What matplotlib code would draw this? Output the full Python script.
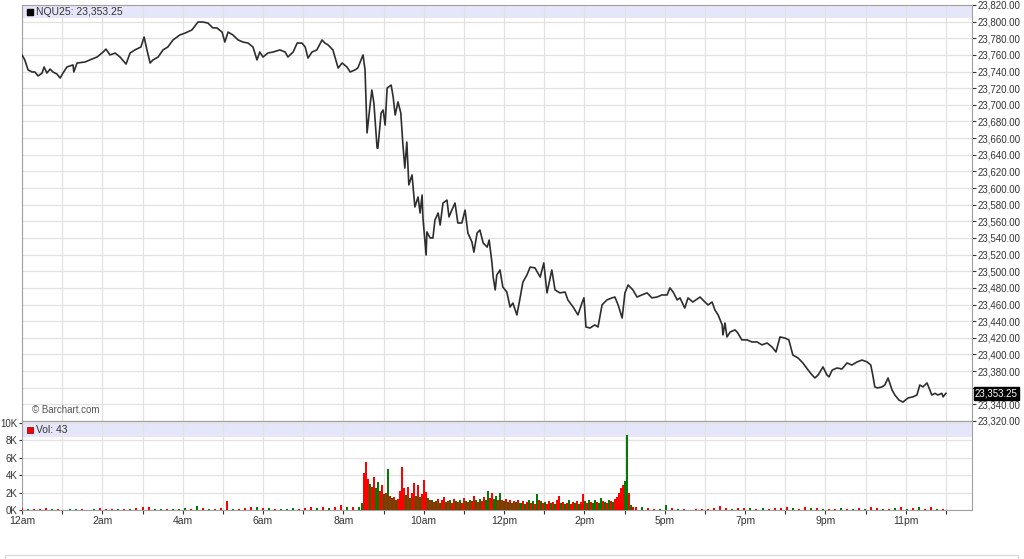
import numpy as np
import matplotlib
matplotlib.use('Agg')
import matplotlib.pyplot as plt
import matplotlib.transforms as mtransforms
from matplotlib.patches import Rectangle
from matplotlib.ticker import FuncFormatter

plt.rcParams['font.family'] = ['Liberation Sans', 'DejaVu Sans']

# ---- data (session hours from 12am, the 4pm-5pm break is skipped) ----
price_hours = [0.00, 0.07, 0.15, 0.25, 0.32, 0.40, 0.50, 0.55, 0.62, 0.70, 0.77, 0.87, 0.95, 1.02, 1.12, 1.27, 1.29, 1.37,
               1.57, 1.69, 1.87, 2.02, 2.09, 2.19, 2.32, 2.44, 2.59, 2.69, 2.81, 2.96, 3.04, 3.11, 3.19, 3.26, 3.39, 3.51,
               3.63, 3.76, 3.93, 4.06, 4.23, 4.38, 4.51, 4.63, 4.75, 4.85, 4.98, 5.05, 5.13, 5.25, 5.38, 5.50, 5.63, 5.75,
               5.85, 5.92, 6.00, 6.12, 6.25, 6.42, 6.55, 6.62, 6.75, 6.85, 6.97, 7.05, 7.12, 7.22, 7.34, 7.47, 7.54, 7.62,
               7.74, 7.87, 7.97, 8.09, 8.17, 8.29, 8.36, 8.49, 8.54, 8.59, 8.66, 8.71, 8.76, 8.84, 8.86, 8.94, 8.99, 9.04,
               9.09, 9.19, 9.24, 9.29, 9.36, 9.43, 9.48, 9.53, 9.58, 9.63, 9.71, 9.78, 9.86, 9.91, 9.96, 9.98, 10.06, 10.08,
               10.16, 10.23, 10.28, 10.36, 10.41, 10.48, 10.58, 10.63, 10.70, 10.78, 10.85, 10.95, 11.03, 11.10, 11.20,
               11.25, 11.33, 11.40, 11.48, 11.58, 11.63, 11.70, 11.73, 11.78, 11.82, 11.90, 11.97, 12.07, 12.15, 12.22,
               12.32, 12.40, 12.47, 12.57, 12.65, 12.77, 12.90, 12.99, 13.07, 13.19, 13.27, 13.39, 13.52, 13.59, 13.72,
               13.84, 13.94, 13.99, 14.04, 14.14, 14.26, 14.34, 14.44, 14.56, 14.69, 14.76, 14.84, 14.94, 15.01, 15.09,
               15.21, 15.31, 15.43, 15.56, 15.68, 15.81, 15.93, 16.06, 16.13, 16.21, 16.31, 16.38, 16.50, 16.58, 16.70,
               16.88, 17.00, 17.08, 17.18, 17.25, 17.33, 17.43, 17.45, 17.50, 17.55, 17.63, 17.75, 17.82, 17.92, 18.05,
               18.17, 18.30, 18.42, 18.55, 18.67, 18.77, 18.87, 18.99, 19.09, 19.19, 19.32, 19.44, 19.57, 19.67, 19.74,
               19.82, 19.94, 20.04, 20.09, 20.17, 20.29, 20.41, 20.54, 20.66, 20.79, 20.91, 21.04, 21.13, 21.18, 21.23,
               21.30, 21.41, 21.48, 21.56, 21.66, 21.73, 21.83, 21.93, 22.06, 22.18, 22.28, 22.35, 22.43, 22.53, 22.65,
               22.73, 22.80, 22.90, 22.93, 23.00]
prices = [23760, 23754, 23742, 23739.5, 23739.5, 23734.75, 23738.25, 23745.5, 23738.25, 23743, 23739.5, 23737, 23732.25,
          23738.25, 23745.5, 23748, 23739.5, 23750.25, 23751.5, 23754, 23757.5, 23763.5, 23767, 23760, 23762.25, 23757.5,
          23749, 23762.25, 23766, 23769.5, 23781.5, 23766, 23750.25, 23754, 23757.5, 23766, 23769.5, 23778, 23784,
          23786.25, 23790, 23799.5, 23799.5, 23798.25, 23792.5, 23792.5, 23787.5, 23775.5, 23787.5, 23784, 23778,
          23775.5, 23774.25, 23769.5, 23754, 23763.5, 23757.5, 23762.25, 23763.5, 23766, 23763.5, 23757.5, 23763.5,
          23774.25, 23774.25, 23769.5, 23756.25, 23763.5, 23766, 23778, 23774.25, 23772, 23766, 23744.25, 23750.25,
          23745.5, 23739.5, 23742, 23744.25, 23760, 23742, 23666.25, 23697.5, 23717.75, 23702.25, 23648, 23648,
          23690.25, 23693.75, 23675.75, 23720.25, 23723.75, 23709.5, 23687.75, 23703.5, 23690.25, 23654, 23624,
          23655.25, 23603.75, 23615.75, 23577.25, 23589.25, 23570, 23591.5, 23565.25, 23519.5, 23547.25, 23540, 23540,
          23561.5, 23570, 23555.5, 23582, 23585.5, 23565.25, 23573.5, 23582, 23558, 23558, 23573.5, 23546, 23535.25,
          23523, 23546, 23549.5, 23534, 23529, 23537.5, 23510, 23493, 23477.5, 23495.5, 23501.5, 23481, 23475, 23457,
          23461.75, 23447.5, 23468, 23487, 23495.5, 23505, 23504, 23493, 23510, 23474, 23501.5, 23477.5, 23474, 23475,
          23465.5, 23457, 23447.5, 23461.75, 23468, 23433, 23431.75, 23435.5, 23433, 23459.5, 23465.5, 23468, 23469,
          23459.5, 23443.75, 23474, 23483.5, 23477.5, 23469, 23471.5, 23474, 23468, 23469, 23471.5, 23471.5, 23480,
          23475, 23465.5, 23468, 23455.75, 23468, 23463, 23469, 23463, 23459.5, 23463, 23453.5, 23447.5, 23435.5,
          23423.5, 23437.75, 23421, 23427, 23429.5, 23425.75, 23417.5, 23417.5, 23415, 23415, 23411.5, 23413.75, 23409,
          23403, 23421, 23419.75, 23417.5, 23399.25, 23395.75, 23389.75, 23381.25, 23375.25, 23371.75, 23375.25, 23385,
          23375.25, 23373, 23381.25, 23383.75, 23382.5, 23389.75, 23387.25, 23391, 23393.25, 23391, 23387.25, 23375.25,
          23361, 23359.75, 23361, 23363.25, 23371.75, 23357.25, 23351.25, 23345.25, 23342.75, 23347.75, 23349,
          23351.25, 23363.25, 23361, 23365.75, 23351.25, 23353.25, 23351.25, 23353.25, 23349, 23353.25]
last_price = 23353.25
last_volume = 43
symbol = "NQU25"

# volume: overnight (9-min buckets), cash session (3-min buckets), evening (9-min buckets)
vol_am_start, vol_am_step = 0.0, 0.15
vol_am = [200, 100, 150, 100, 200, 100, 150, 50, 100, 150, 100, 50, 150, 200, 150, 100, 100, 150, 100, 200,
          350, 300, 100, 100, 150, 100, 150, 200, 150, 450, 200, 150, 100, 200, 1000, 100, 150, 200, 350, 300,
          250, 200, 100, 100, 150, 200, 100, 250, 300, 200, 300, 200, 400, 600, 300, 350, 400]
dir_am = "rgrrrgrggg" "rrgrrrgrgr" "rrggrgggrg" "rgrrrgrrrg" "rgrgggrrrg" "rgrrgrg"

vol_day_start, vol_day_step = 8.46, 0.05
vol_day = [800, 4200, 5500, 3600, 3000, 2700, 3800, 2500, 3200, 2200,
           2900, 1800, 2000, 4700, 1600, 1400, 1500, 1200, 1300, 2200,
           4900, 2500, 1700, 2600, 1400, 1900, 3100, 1600, 2900, 1500,
           1800, 3400, 2100, 1400, 1100, 1200, 900, 1000, 1300, 800,
           1100, 1500, 900, 1000, 1200, 800, 1300, 1000, 900, 1100,
           800, 1400, 1000, 900, 1200, 1000, 1600, 1100, 900, 1300,
           1000, 1500, 1200, 2200, 1400, 2000, 1300, 1600, 1100, 1900,
           1200, 1000, 1300, 900, 1100, 800, 1000, 900, 1200, 800,
           1000, 700, 900, 1200, 800, 1000, 700, 1800, 1200, 1000,
           800, 900, 700, 1000, 800, 900, 700, 1100, 1600, 800,
           900, 700, 800, 1100, 700, 900, 800, 1000, 700, 900,
           1800, 1000, 800, 1100, 900, 800, 1200, 900, 800, 1400,
           1000, 900, 800, 1200, 1000, 900, 1300, 1500, 1900, 2500,
           2900, 3300, 8600, 2000, 600, 400]
dir_day = ("grrrgrrggr" "rgrgrgrgrr" "rrgrgrrgrg" "rrrgrgrgrg" "rrgrgrrgrg" "rrgrgrrgrg" "rrggrrggrg"
           "rgrgrgrgrg" "rgrgrgrgrg" "rgrrgrgrrg" "rgrgrrgrgr" "rgrgrggrgg" "rgrgrgrrrr" "rggrgr")

vol_pm_start, vol_pm_step = 15.285, 0.15
vol_pm = [400, 300, 200, 150, 100, 600, 200, 150, 100, 50,
          100, 100, 150, 200, 500, 200, 100, 200, 250, 200,
          150, 200, 150, 200, 250, 300, 200, 150, 300, 250,
          200, 100, 150, 100, 200, 100, 150, 200, 150, 400,
          200, 150, 100, 200, 300, 150, 200, 300, 150, 300,
          100, 150]
dir_pm = "rgrrggrgrg" "rrrrrrgrrg" "rgrrrrgrrg" "rgrrgrgrgr" "rgrgrgrgrr" "gr"

tick_hours = list(range(0, 24))
tick_names = ['12am', '', '2am', '', '4am', '', '6am', '', '8am', '', '10am', '', '12pm', '',
              '2pm', '', '5pm', '', '7pm', '', '9pm', '', '11pm', '']

# ---- figure ----
fig = plt.figure(figsize=(10.24, 5.59), dpi=100)
ax = fig.add_axes([22 / 1024, 138 / 559, 950 / 1024, 416 / 559])
axv = fig.add_axes([22 / 1024, 49 / 559, 950 / 1024, 89 / 559], sharex=ax)

grid_c = '#e2e2e2'
spine_c = '#a0a0a0'
text_c = '#333333'
band_c = '#e6e6fa'

ax.plot(price_hours, prices, color='#2e2e2e', lw=1.2, zorder=3)
ax.set_xlim(0, 23.65)
ax.set_ylim(23320, 23820)
ax.set_yticks(np.arange(23320, 23821, 20))
ax.yaxis.tick_right()
# the last-price tag hides the 23,360 label, as on the original
ax.yaxis.set_major_formatter(FuncFormatter(lambda v, p: '' if abs(v - 23360) < 1 else '{:,.2f}'.format(v)))
ax.tick_params(axis='y', labelsize=7, colors=text_c, length=3, width=0.8, pad=1)
ax.set_xticks(tick_hours)
ax.tick_params(axis='x', length=0, labelbottom=False)
ax.grid(True, color=grid_c, lw=0.9, zorder=0)
ax.axhspan(23804.3, 23820, color=band_c, zorder=1, lw=0)
for s in ax.spines.values():
    s.set_color(spine_c)

# header
ax.plot([0.0085], [0.983], marker='s', ms=5, color='black', transform=ax.transAxes, clip_on=False, zorder=4)
ax.text(0.0145, 0.983, f'{symbol}: {last_price:,.2f}', transform=ax.transAxes, fontsize=7.5,
        color=text_c, va='center', ha='left', zorder=4)
ax.text(0.0105, 0.026, '\u00a9 Barchart.com', transform=ax.transAxes, fontsize=7,
        color='#555555', va='center', ha='left')

# last price tag
trans = mtransforms.blended_transform_factory(ax.transAxes, ax.transData)
ax.text(1.003, last_price, f'{last_price:,.2f}', transform=trans, fontsize=7, color='white',
        va='center', ha='left', bbox=dict(boxstyle='square,pad=0.12', fc='black', ec='black'), zorder=5)

# volume panel
colmap = {'r': '#ff0000', 'g': '#007a00'}
for start, step, vals, dirs, w in [(vol_am_start, vol_am_step, vol_am, dir_am, 0.05),
                                   (vol_day_start, vol_day_step, vol_day, dir_day, 0.05),
                                   (vol_pm_start, vol_pm_step, vol_pm, dir_pm, 0.05)]:
    n = min(len(vals), len(dirs))
    xs = start + step * np.arange(n)
    axv.bar(xs, vals[:n], width=w, color=[colmap[d] for d in dirs[:n]], lw=0, zorder=3)

axv.set_ylim(0, 10230)
axv.set_yticks(np.arange(0, 10001, 2000))
axv.set_yticklabels([f'{v // 1000}K' for v in range(0, 10001, 2000)])
axv.tick_params(axis='y', labelsize=7, colors=text_c, length=2.5, width=0.8, pad=0.5)
axv.set_xticks(tick_hours)
axv.set_xticklabels(tick_names)
axv.tick_params(axis='x', labelsize=7.5, colors=text_c, length=3, width=0.8, pad=1)
axv.grid(True, color=grid_c, lw=0.9, zorder=0)
axv.axhspan(8400, 10230, color=band_c, zorder=1, lw=0)
for s in axv.spines.values():
    s.set_color(spine_c)
axv.plot([0.0085], [0.9], marker='s', ms=5, color='#ff0000', mec='#660000', mew=0.5,
         transform=axv.transAxes, clip_on=False, zorder=4)
axv.text(0.0145, 0.9, f'Vol: {last_volume}', transform=axv.transAxes, fontsize=7.5,
         color=text_c, va='center', ha='left', zorder=4)

# start of the next page element at the bottom
fig.patches.append(Rectangle((5 / 1024, -0.02), 1013 / 1024, 0.027, transform=fig.transFigure,
                             fill=False, ec='#dcdcdc', lw=1))

fig.savefig('out.png', dpi=100)
